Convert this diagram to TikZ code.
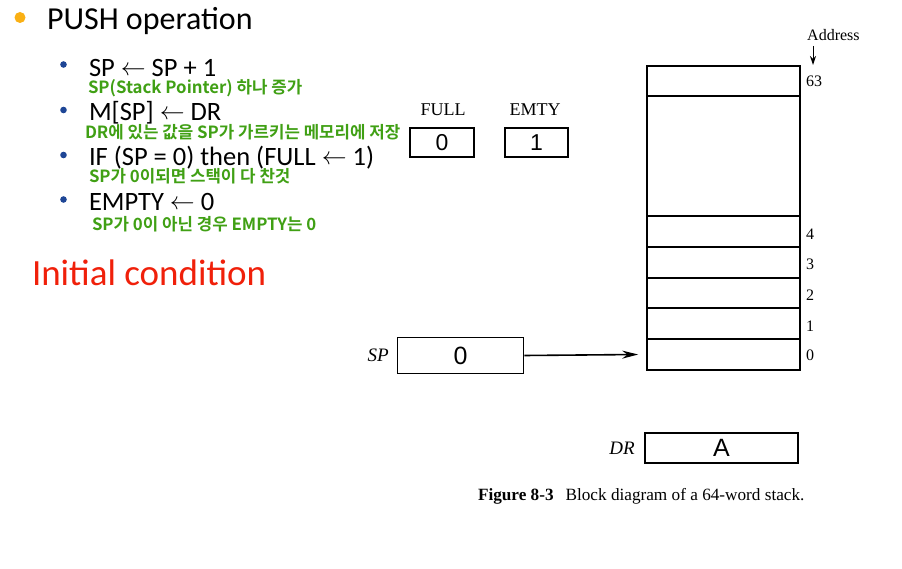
\documentclass[tikz,border=0pt]{standalone}
\usepackage{fontspec}
\setmainfont{Carlito}
\newfontfamily\kr{Noto Sans CJK KR}[BoldFont={Noto Sans CJK KR Bold}]
\newfontfamily\tms{Liberation Serif}
\newfontfamily\arl{Liberation Sans}
\usetikzlibrary{arrows.meta}
\definecolor{kgreen}{RGB}{64,160,20}
\definecolor{kred}{RGB}{240,32,10}
\definecolor{korange}{RGB}{250,176,20}
\definecolor{kblue}{RGB}{30,70,150}
\newcommand{\la}{{\fontsize{23}{25}\selectfont\raisebox{1.5pt}{$\leftarrow$}}}
\tikzset{
  txt/.style={anchor=base west, inner sep=0pt, outer sep=0pt},
  main/.style={txt, text depth=0pt, font=\fontsize{26.5}{28}\selectfont},
  note/.style={txt, text height=11pt, text=kgreen, font=\kr\bfseries\fontsize{16.8}{18}\selectfont},
  reg/.style={draw, line width=1.6pt, inner sep=0pt, font=\arl\fontsize{23}{25}\selectfont},
  cell/.style={draw, line width=1.6pt, inner sep=0pt, minimum width=153pt},
  lab/.style={inner sep=0pt, font=\tms\fontsize{18}{20}\selectfont},
  addr/.style={anchor=base west, inner sep=0pt, font=\tms\fontsize{16}{18}\selectfont},
}
\begin{document}
\begin{tikzpicture}[x=1pt,y=-1pt]
\useasboundingbox[fill=white] (0,0) rectangle (902,569);
% left column
\fill[korange] (20,17.5) circle (5.5pt);
\node[txt, font=\fontsize{32}{34}\selectfont] (head) at (47,30) {PUSH operation};
\foreach \yy/\nm in {64.5/b1,110/b2,155/b3,199.5/b4} \fill[kblue] (63.5,\yy) circle (3.3pt);
\node[main] (l1) at (89,77) {SP \la{} SP + 1};
\node[note] (n1) at (88,94) {SP(Stack Pointer) 하나 증가};
\node[main] (l2) at (89,121) {M[SP] \la{} DR};
\node[note] (n2) at (85,139) {DR에 있는 값을 SP가 가르키는 메모리에 저장};
\node[main] (l3) at (89,166) {IF (SP = 0) then (FULL \la{} 1)};
\node[note] (n3) at (89,183) {SP가 0이되면 스택이 다 찬것};
\node[main] (l4) at (89,211) {EMPTY \la{} 0};
\node[note] (n4) at (92,231) {SP가 0이 아닌 경우 EMPTY는 0};
\node[txt, text=kred, font=\fontsize{37}{39}\selectfont] (init) at (32,286) {Initial condition};
% flags
\node[lab] (fulll) at (443,110) {FULL};
\node[lab] (emtyl) at (535,110) {EMTY};
\node[reg, minimum width=64pt, minimum height=29pt] (full) at (442,142.5) {0};
\node[reg, minimum width=63pt, minimum height=29pt] (emty) at (536.5,142.5) {1};
% stack
\node[cell, minimum height=30pt] (c63) at (723.5,81) {};
\node[cell, minimum height=120pt] (cmid) at (723.5,156) {};
\node[cell, minimum height=31pt] (c4) at (723.5,231.5) {};
\node[cell, minimum height=31pt] (c3) at (723.5,262.5) {};
\node[cell, minimum height=30pt] (c2) at (723.5,293) {};
\node[cell, minimum height=31pt] (c1) at (723.5,323.5) {};
\node[cell, minimum height=31pt] (c0) at (723.5,354.5) {};
\node[addr] (a63) at (806,87) {63};
\node[addr] (a4) at (806,239.5) {4};
\node[addr] (a3) at (806,269.5) {3};
\node[addr] (a2) at (806,300.5) {2};
\node[addr] (a1) at (806,331.5) {1};
\node[addr] (a0) at (806,360.5) {0};
\node[addr] (addr) at (807,41) {Address};
\coordinate (at) at (813,46);
\coordinate (ab) at (813,65);
\draw[line width=1pt, -{Stealth[length=9pt,width=6pt]}] (at) -- (ab);
% SP
\node[lab, font=\tms\itshape\fontsize{19}{21}\selectfont, anchor=east] (spl) at (389,355) {SP};
\node[reg, minimum width=126pt, minimum height=36pt, font=\arl\fontsize{25}{27}\selectfont] (sp) at (460.5,355.5) {0};
\draw[line width=1.6pt, -{Stealth[length=16pt,width=8pt]}] (sp.east) -- ([xshift=-8pt]c0.west);
% DR
\node[lab, font=\tms\itshape\fontsize{19}{21}\selectfont, anchor=east] (drl) at (635,448) {DR};
\node[reg, minimum width=153pt, minimum height=30pt, font=\arl\fontsize{25}{27}\selectfont] (dr) at (721.5,448) {A};
% caption
\node[txt, font=\tms\fontsize{17.2}{19}\selectfont] (cap) at (478,500) {\textbf{Figure 8-3}\hspace{12pt}Block diagram of a 64-word stack.};
\end{tikzpicture}
\end{document}
